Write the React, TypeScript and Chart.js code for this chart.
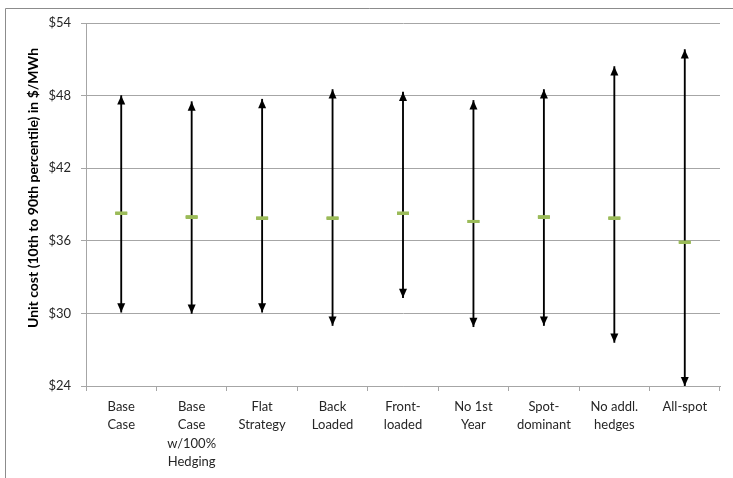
import React, { useEffect, useRef } from "react";
import { Chart, registerables } from "chart.js";

Chart.register(...registerables);

const categories: (string | string[])[] = [
  ["Base", "Case"],
  ["Base", "Case", "w/100%", "Hedging"],
  ["Flat", "Strategy"],
  ["Back", "Loaded"],
  ["Front-", "loaded"],
  ["No 1st", "Year"],
  ["Spot-", "dominant"],
  ["No addl.", "hedges"],
  ["All-spot"],
];

const lowValues = [30.1, 30.0, 30.1, 29.0, 31.3, 28.9, 29.0, 27.6, 24.0];
const highValues = [48.0, 47.5, 47.7, 48.5, 48.3, 47.6, 48.5, 50.4, 51.8];
const midValues = [38.3, 38.0, 37.9, 37.9, 38.3, 37.6, 38.0, 37.9, 35.9];

const yTicks = [24, 30, 36, 42, 48, 54];
const yTitle = "Unit cost (10th to 90th percentile) in $/MWh";

const FONT = "Lato, 'Open Sans', sans-serif";
const GRID = "#a6a6a6";

const arrowPlugin = {
  id: "arrows",
  beforeDraw(chart: any) {
    const ctx = chart.ctx;
    ctx.save();
    ctx.fillStyle = "#ffffff";
    ctx.fillRect(0, 0, chart.width, chart.height);
    ctx.strokeStyle = "#8c8c8c";
    ctx.lineWidth = 1;
    ctx.beginPath();
    ctx.moveTo(5.5, chart.height);
    ctx.lineTo(5.5, 8.5);
    ctx.lineTo(chart.width, 8.5);
    ctx.stroke();
    ctx.restore();
  },
  afterDatasetsDraw(chart: any) {
    const ctx = chart.ctx;
    const xs = chart.scales.x;
    const ys = chart.scales.y;
    ctx.save();
    ctx.fillStyle = "#000000";
    const hw = 4;
    const h = 9;
    for (let i = 0; i < categories.length; i++) {
      const x = xs.getPixelForValue(i);
      const yh = ys.getPixelForValue(highValues[i]);
      const yl = ys.getPixelForValue(lowValues[i]);
      ctx.beginPath();
      ctx.moveTo(x, yh);
      ctx.lineTo(x - hw, yh + h);
      ctx.lineTo(x + hw, yh + h);
      ctx.closePath();
      ctx.fill();
      ctx.beginPath();
      ctx.moveTo(x, yl);
      ctx.lineTo(x - hw, yl - h);
      ctx.lineTo(x + hw, yl - h);
      ctx.closePath();
      ctx.fill();
    }
    ctx.strokeStyle = "#9BBB59";
    ctx.lineWidth = 3;
    for (let i = 0; i < categories.length; i++) {
      const x = xs.getPixelForValue(i);
      const ym = Math.round(ys.getPixelForValue(midValues[i])) + 0.5;
      ctx.beginPath();
      ctx.moveTo(x - 6, ym);
      ctx.lineTo(x + 6, ym);
      ctx.stroke();
    }
    ctx.restore();
  },
  afterDraw(chart: any) {
    const ctx = chart.ctx;
    ctx.save();
    ctx.translate(33, 188);
    ctx.rotate(-Math.PI / 2);
    ctx.font = `bold 14px ${FONT}`;
    ctx.fillStyle = "#000000";
    ctx.textAlign = "center";
    ctx.textBaseline = "middle";
    ctx.fillText(yTitle, 0, 0);
    ctx.restore();
  },
};

export default function App() {
  const ref = useRef<HTMLCanvasElement | null>(null);
  useEffect(() => {
    if (!ref.current) return;
    const chart = new Chart(ref.current, {
      type: "bar",
      data: {
        labels: categories as any,
        datasets: [
          {
            type: "bar",
            label: "Range",
            data: categories.map((_, i) => [lowValues[i], highValues[i]]) as any,
            backgroundColor: "#000000",
            borderWidth: 0,
            barThickness: 1.2,
            order: 2,
          } as any,
          {
            type: "line",
            label: "Mid",
            data: midValues,
            showLine: false,
            pointStyle: "line",
            pointRadius: 6,
            pointBorderWidth: 3,
            pointBorderColor: "#9BBB59",
            borderColor: "#9BBB59",
            backgroundColor: "#9BBB59",
            order: 1,
          } as any,
        ],
      },
      options: {
        responsive: false,
        animation: false,
        layout: { padding: { left: 0, top: 23, right: 13, bottom: 0 } },
        plugins: {
          legend: { display: false },
          tooltip: { enabled: false },
        },
        scales: {
          x: {
            type: "category",
            offset: true,
            grid: {
              offset: true,
              drawOnChartArea: false,
              tickLength: 5,
              color: GRID,
            },
            border: { color: GRID },
            ticks: {
              autoSkip: false,
              maxRotation: 0,
              minRotation: 0,
              padding: 7,
              color: "#262626",
              font: { family: FONT, size: 13, lineHeight: 1.4 },
            },
            afterFit: (s: any) => {
              s.height = 92;
            },
          },
          y: {
            min: 24,
            max: 54,
            afterBuildTicks: (s: any) => {
              s.ticks = yTicks.map((v) => ({ value: v }));
            },
            grid: { color: GRID, tickLength: 5 },
            border: { color: GRID },
            ticks: {
              padding: 10,
              color: "#262626",
              font: { family: FONT, size: 13 },
              callback: (v: any) => "$" + v,
            },
            afterFit: (s: any) => {
              s.width = 86;
            },
          },
        },
      },
      plugins: [arrowPlugin],
    });
    return () => chart.destroy();
  }, []);
  return (
    <div style={{ position: "absolute", left: 0, top: 0, width: 733, height: 478 }}>
      <canvas ref={ref} width={733} height={478} />
    </div>
  );
}
